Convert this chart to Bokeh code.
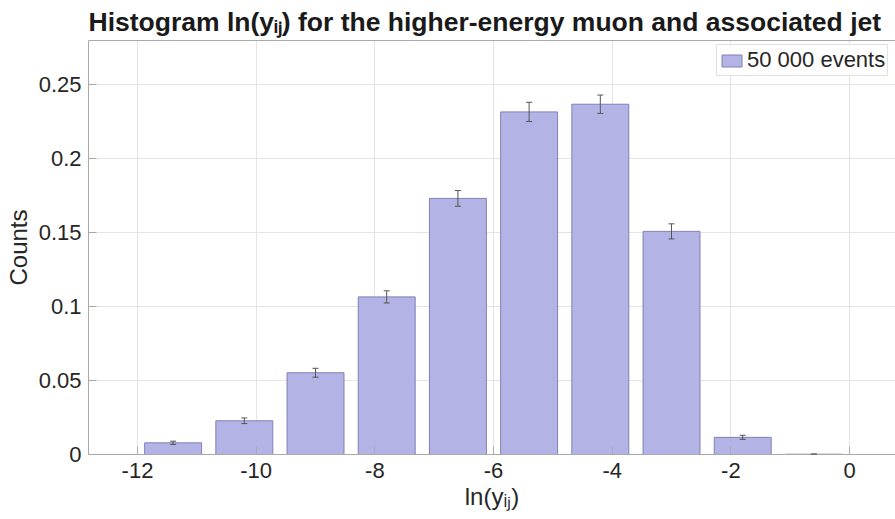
from bokeh.plotting import figure
from bokeh.models import (ColumnDataSource, FixedTicker, LinearAxis,
                          Range1d, Whisker, TeeHead, Legend, LegendItem)
from bokeh.embed import file_html
from bokeh.resources import INLINE

# Histogram of ln(y_ij), normalised counts per bin (bin width 1.2)
bin_centers = [-11.4, -10.2, -9.0, -7.8, -6.6, -5.4, -4.2, -3.0, -1.8, -0.6]
counts = [0.0079, 0.0228, 0.0553, 0.1066, 0.1732, 0.2317, 0.2369, 0.1509, 0.0116, 0.0002]
errors = [0.0011, 0.0019, 0.0030, 0.0041, 0.0053, 0.0065, 0.0062, 0.0051, 0.0014, 0.0002]

x_ticks = [-12, -10, -8, -6, -4, -2, 0]
x_tick_labels = ["-12", "-10", "-8", "-6", "-4", "-2", "0"]
y_ticks = [0, 0.05, 0.1, 0.15, 0.2, 0.25]
y_tick_labels = ["0", "0.05", "0.1", "0.15", "0.2", "0.25"]

title_text = "Histogram ln(y\u1d62\u2c7c) for the higher-energy muon and associated jet"
x_label = "ln(y\u1d62\u2c7c)"
y_label = "Counts"
legend_text = "50 000 events"

FONT = "Liberation Sans"
AXIS_GRAY = "#a9a9a9"
TEXT_DARK = "#262626"

src = ColumnDataSource(dict(
    x=bin_centers,
    top=counts,
    upper=[c + e for c, e in zip(counts, errors)],
    lower=[c - e for c, e in zip(counts, errors)],
))

p = figure(width=895, height=519, output_backend="svg", toolbar_location=None,
           x_range=Range1d(-12.826, 0.775), y_range=Range1d(0, 0.28),
           min_border_left=88, min_border_right=0, min_border_top=40,
           min_border_bottom=65, title=title_text)
p.outline_line_color = None
p.background_fill_color = "white"
p.border_fill_color = "white"

p.title.text_font = FONT
p.title.text_font_size = "26.5px"
p.title.text_font_style = "bold"
p.title.text_color = "#1a1a1a"
p.title.align = "left"
p.title.offset = 0
p.title.standoff = 8

bars = p.vbar(x="x", top="top", width=0.96, source=src,
              fill_color="#b3b3e6", line_color="#8080b6", line_width=1)

err = Whisker(base="x", upper="upper", lower="lower", source=src,
              level="annotation", line_color="#555555", line_width=1,
              upper_head=TeeHead(size=6, line_color="#555555", line_width=1),
              lower_head=TeeHead(size=6, line_color="#555555", line_width=1))
p.add_layout(err)

# axes
xt = FixedTicker(ticks=x_ticks)
yt = FixedTicker(ticks=y_ticks)

p.xaxis.ticker = xt
p.xaxis.major_label_overrides = dict(zip(x_ticks, x_tick_labels))
p.yaxis.ticker = yt
p.yaxis.major_label_overrides = dict(zip(y_ticks, y_tick_labels))

for ax in [p.xaxis[0], p.yaxis[0]]:
    ax.axis_line_color = AXIS_GRAY
    ax.major_tick_line_color = AXIS_GRAY
    ax.major_tick_in = 8
    ax.major_tick_out = 0
    ax.minor_tick_line_color = None
    ax.major_label_text_font = FONT
    ax.major_label_text_font_size = "22px"
    ax.major_label_text_color = TEXT_DARK
    ax.axis_label_text_font = FONT
    ax.axis_label_text_font_size = "24px"
    ax.axis_label_text_font_style = "normal"
    ax.axis_label_text_color = TEXT_DARK

p.xaxis.major_label_standoff = 8
p.xaxis.axis_label = x_label
p.xaxis.axis_label_standoff = 2
p.yaxis.major_label_standoff = 7
p.yaxis.axis_label = y_label
p.yaxis.axis_label_standoff = 4

# top edge of the box
top_axis = LinearAxis(ticker=FixedTicker(ticks=[]), axis_line_color=AXIS_GRAY,
                      major_tick_out=0, major_tick_in=0,
                      minor_tick_line_color=None)
p.add_layout(top_axis, "above")

p.xgrid.ticker = xt
p.ygrid.ticker = yt
p.xgrid.grid_line_color = "#e4e4e4"
p.ygrid.grid_line_color = "#e4e4e4"

# legend
legend = Legend(items=[LegendItem(label=legend_text, renderers=[bars])],
                location=(628, 378), padding=2, margin=0, spacing=0,
                label_standoff=3, glyph_width=25, glyph_height=15,
                label_text_font=FONT, label_text_font_size="22px",
                label_text_color=TEXT_DARK, border_line_color="#c4c4c4",
                background_fill_color="white")
p.add_layout(legend)

open("out.html", "w").write(file_html(p, INLINE))
